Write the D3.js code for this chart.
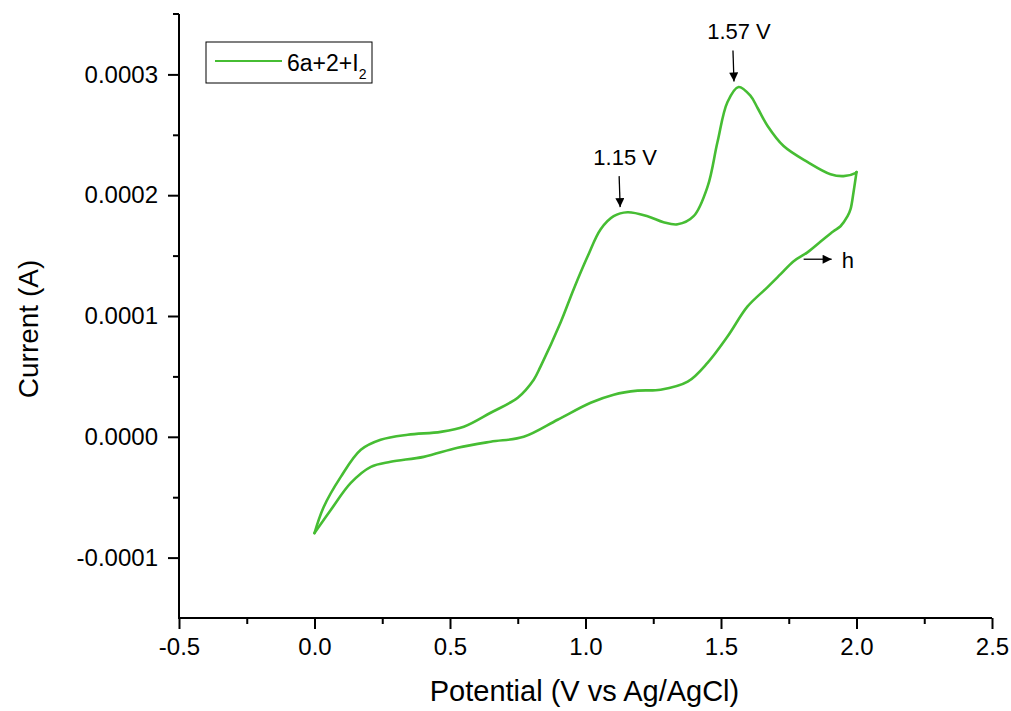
<!DOCTYPE html>
<html>
<head>
<meta charset="utf-8">
<script src="https://cdn.jsdelivr.net/npm/d3@7"></script>
<style>
  body { margin: 0; background: #fff; }
  svg { font-family: Arial, "Liberation Sans", sans-serif; }
</style>
</head>
<body>
<svg id="chart"></svg>
<script>
// anodic sweep 0 -> 2.0 V (V, units of 1e-4 A)
const fwdV = [0.000, 0.034, 0.097, 0.171, 0.244, 0.344, 0.466, 0.551, 0.650, 0.750, 0.809, 0.834, 0.908, 0.956, 1.008, 1.056, 1.104, 1.155, 1.229, 1.288, 1.340, 1.399, 1.451, 1.487, 1.524, 1.565, 1.609, 1.635, 1.672, 1.731, 1.820, 1.904, 1.952, 1.996, 2.000];
const fwdI = [-0.797, -0.581, -0.332, -0.108, -0.025, 0.017, 0.041, 0.083, 0.199, 0.324, 0.473, 0.581, 0.946, 1.220, 1.494, 1.718, 1.826, 1.859, 1.826, 1.776, 1.759, 1.826, 2.075, 2.440, 2.772, 2.896, 2.822, 2.722, 2.573, 2.407, 2.274, 2.174, 2.158, 2.183, 2.191];
// return sweep 2.0 -> 0 V
const revV = [2.000, 1.989, 1.978, 1.967, 1.941, 1.915, 1.878, 1.819, 1.767, 1.719, 1.671, 1.598, 1.524, 1.451, 1.377, 1.277, 1.192, 1.104, 1.019, 0.897, 0.772, 0.650, 0.528, 0.403, 0.281, 0.208, 0.134, 0.060, 0.000];
const revI = [2.191, 2.025, 1.884, 1.826, 1.743, 1.701, 1.635, 1.527, 1.452, 1.344, 1.237, 1.079, 0.830, 0.614, 0.456, 0.390, 0.382, 0.349, 0.282, 0.141, 0.000, -0.041, -0.091, -0.166, -0.207, -0.249, -0.382, -0.606, -0.797];

const xTicks = [-0.5, 0.0, 0.5, 1.0, 1.5, 2.0, 2.5];
const yTicks = [-0.0001, 0.0000, 0.0001, 0.0002, 0.0003];
const peakV = [1.15, 1.57];
const peakI = [1.86e-4, 2.90e-4];
const peakLabels = ["1.15 V", "1.57 V"];
const seriesName = "6a+2+I";

const width = 1011, height = 711;
const margin = {top: 14, right: 19, bottom: 93, left: 179};
const color = "#46bd33";

const svg = d3.select("#chart").attr("width", width).attr("height", height);

const x = d3.scaleLinear().domain([-0.5, 2.5]).range([margin.left, width - margin.right]);
const y = d3.scaleLinear().domain([-0.00015, 0.00035]).range([height - margin.bottom, margin.top]);

// minor ticks halfway between the majors
const xMinor = d3.range(-0.25, 2.5, 0.5);
const yMinor = [-0.00005, 0.00005, 0.00015, 0.00025];

svg.append("g")
    .attr("transform", `translate(0,${height - margin.bottom})`)
    .call(d3.axisBottom(x).tickValues(xTicks).tickFormat(d => d.toFixed(1)).tickSize(11).tickPadding(9));
svg.append("g")
    .attr("transform", `translate(0,${height - margin.bottom})`)
    .call(d3.axisBottom(x).tickValues(xMinor).tickFormat("").tickSize(6));
svg.append("g")
    .attr("transform", `translate(${margin.left},0)`)
    .call(d3.axisLeft(y).tickValues(yTicks).tickFormat(d => d.toFixed(4)).tickSize(11).tickPadding(10));
svg.append("g")
    .attr("transform", `translate(${margin.left},0)`)
    .call(d3.axisLeft(y).tickValues(yMinor).tickFormat("").tickSize(6));

svg.selectAll(".domain").remove();
svg.selectAll(".tick line").attr("stroke", "#000").attr("stroke-width", 2);
svg.selectAll(".tick text").attr("font-size", 24).attr("fill", "#000")
    .attr("font-family", "Arial, 'Liberation Sans', sans-serif");

// axis lines
svg.append("line")
    .attr("x1", x(-0.5)).attr("x2", x(2.5))
    .attr("y1", y(-0.00015)).attr("y2", y(-0.00015))
    .attr("stroke", "#000").attr("stroke-width", 2);
svg.append("line")
    .attr("x1", x(-0.5)).attr("x2", x(-0.5))
    .attr("y1", y(-0.00015) + 1).attr("y2", y(0.00035))
    .attr("stroke", "#000").attr("stroke-width", 2);
svg.append("line")
    .attr("x1", x(-0.5) - 6).attr("x2", x(-0.5))
    .attr("y1", y(0.00035)).attr("y2", y(0.00035))
    .attr("stroke", "#000").attr("stroke-width", 2);

// axis titles
svg.append("text")
    .attr("x", (x(-0.5) + x(2.5)) / 2 - 1)
    .attr("y", 701)
    .attr("text-anchor", "middle")
    .attr("font-size", 29)
    .text("Potential (V vs Ag/AgCl)");
svg.append("text")
    .attr("transform", `translate(38,${(y(-0.00015) + y(0.00035)) / 2 + 13}) rotate(-90)`)
    .attr("text-anchor", "middle")
    .attr("font-size", 28)
    .text("Current (A)");

// the CV loop: two sweeps, each smooth, joined at the cusps
const line = d3.line().x(d => x(d[0])).y(d => y(d[1])).curve(d3.curveCatmullRom.alpha(0.5));
const fwd = fwdV.map((v, i) => [v, fwdI[i] * 1e-4]);
const rev = revV.map((v, i) => [v, revI[i] * 1e-4]);
svg.selectAll(".sweep")
    .data([fwd, rev])
    .join("path")
    .attr("class", "sweep")
    .attr("fill", "none")
    .attr("stroke", color)
    .attr("stroke-width", 2.6)
    .attr("stroke-linecap", "round")
    .attr("stroke-linejoin", "round")
    .attr("d", line);

// arrowhead marker
svg.append("defs").append("marker")
    .attr("id", "head")
    .attr("viewBox", "0 0 10 10")
    .attr("refX", 10).attr("refY", 5)
    .attr("markerWidth", 10).attr("markerHeight", 9)
    .attr("markerUnits", "userSpaceOnUse")
    .attr("orient", "auto")
    .append("path").attr("d", "M0,0L10,5L0,10z").attr("fill", "#000");

// peak annotations
const ann = svg.append("g");
peakV.forEach((v, k) => {
    const px = x(v) - 6, py = y(peakI[k]) - 5;
    ann.append("line")
        .attr("x1", px - 1).attr("y1", py - 31)
        .attr("x2", px).attr("y2", py)
        .attr("stroke", "#000").attr("stroke-width", 1.3)
        .attr("marker-end", "url(#head)");
    ann.append("text")
        .attr("x", x(v) - 1)
        .attr("y", py - 42)
        .attr("text-anchor", "middle")
        .attr("font-size", 22)
        .text(peakLabels[k]);
});

// sweep direction marker
const hx = x(1.805), hy = y(1.47e-4);
ann.append("line")
    .attr("x1", hx).attr("y1", hy).attr("x2", hx + 28).attr("y2", hy)
    .attr("stroke", "#000").attr("stroke-width", 1.3)
    .attr("marker-end", "url(#head)");
ann.append("text")
    .attr("x", hx + 38).attr("y", hy + 9)
    .attr("font-size", 22)
    .text("h");

// legend
const lg = svg.append("g");
lg.append("rect")
    .attr("x", 206).attr("y", 42).attr("width", 166).attr("height", 41)
    .attr("fill", "#fff").attr("stroke", "#000").attr("stroke-width", 1);
lg.append("line")
    .attr("x1", 215).attr("x2", 282).attr("y1", 61).attr("y2", 61)
    .attr("stroke", color).attr("stroke-width", 2);
const lt = lg.append("text").attr("x", 287).attr("y", 71).attr("font-size", 23).text(seriesName);
lt.append("tspan").attr("font-size", 14).attr("dy", 8).text("2");
</script>
</body>
</html>
